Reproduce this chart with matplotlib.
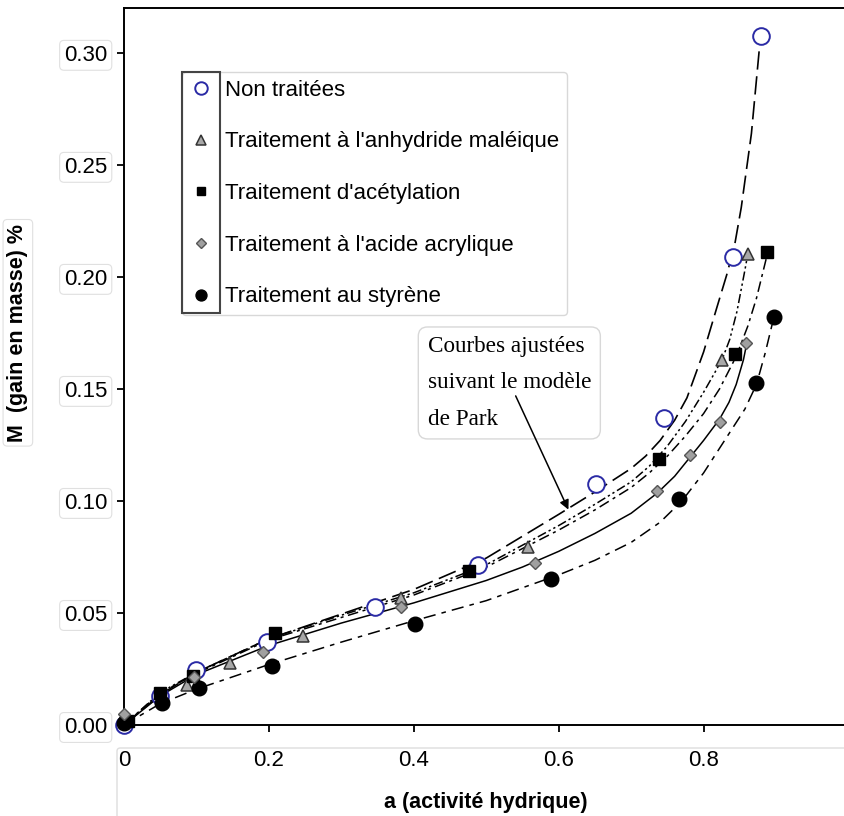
import numpy as np
import matplotlib
matplotlib.use("Agg")
import matplotlib.pyplot as plt
from matplotlib.patches import Rectangle, FancyBboxPatch

plt.rcParams['font.family'] = ['Liberation Sans', 'DejaVu Sans']

# measured points (a = activite hydrique, M = gain en masse)
a_nt = [0.0, 0.05, 0.10, 0.198, 0.346, 0.488, 0.651, 0.745, 0.840, 0.879]
m_nt = [0.0, 0.013, 0.0245, 0.037, 0.0526, 0.0713, 0.1075, 0.137, 0.209, 0.3075]

a_am = [0.0, 0.087, 0.146, 0.247, 0.383, 0.557, 0.826, 0.861]
m_am = [0.004, 0.018, 0.0277, 0.0397, 0.0566, 0.0794, 0.1627, 0.2104]

a_ac = [0.005, 0.05, 0.095, 0.208, 0.476, 0.739, 0.843, 0.887]
m_ac = [0.002, 0.0145, 0.022, 0.041, 0.0687, 0.1186, 0.1654, 0.2111]

a_aa = [0.0, 0.097, 0.192, 0.383, 0.567, 0.736, 0.781, 0.822, 0.859]
m_aa = [0.005, 0.0215, 0.0326, 0.0526, 0.0722, 0.1045, 0.1204, 0.1351, 0.1703]

a_st = [0.0, 0.052, 0.104, 0.204, 0.401, 0.590, 0.766, 0.873, 0.897]
m_st = [0.001, 0.010, 0.0165, 0.0263, 0.045, 0.0651, 0.1008, 0.1525, 0.1822]

# fitted curves (Park model)
fa_nt = [0, 0.05, 0.1, 0.2, 0.3, 0.4, 0.5, 0.6, 0.65, 0.7, 0.72, 0.74, 0.76, 0.777, 0.8, 0.818, 0.832, 0.843, 0.852, 0.866, 0.877]
fm_nt = [0, 0.0135, 0.0235, 0.0385, 0.0495, 0.0605, 0.0745, 0.094, 0.104, 0.1145, 0.120, 0.127, 0.136, 0.146, 0.1665, 0.186, 0.201, 0.2145, 0.231, 0.264, 0.302]

fa_am = [0, 0.05, 0.1, 0.2, 0.3, 0.4, 0.5, 0.6, 0.65, 0.7, 0.725, 0.75, 0.775, 0.8, 0.815, 0.826, 0.836, 0.846, 0.857, 0.862]
fm_am = [0, 0.0145, 0.0235, 0.0385, 0.049, 0.059, 0.0715, 0.089, 0.0985, 0.1085, 0.1155, 0.1245, 0.1355, 0.1485, 0.157, 0.1635, 0.172, 0.1845, 0.203, 0.212]

fa_ac = [0, 0.05, 0.1, 0.2, 0.3, 0.4, 0.5, 0.6, 0.65, 0.7, 0.725, 0.75, 0.775, 0.8, 0.822, 0.845, 0.861, 0.873, 0.881, 0.889]
fm_ac = [0, 0.0143, 0.023, 0.038, 0.048, 0.058, 0.0705, 0.087, 0.096, 0.106, 0.1125, 0.120, 0.129, 0.139, 0.150, 0.1645, 0.178, 0.1905, 0.201, 0.2115]

fa_aa = [0, 0.05, 0.1, 0.2, 0.3, 0.4, 0.5, 0.55, 0.6, 0.65, 0.7, 0.736, 0.76, 0.78, 0.8, 0.822, 0.835, 0.845, 0.855, 0.86]
fm_aa = [0, 0.013, 0.0225, 0.0355, 0.0455, 0.0545, 0.0645, 0.0705, 0.0775, 0.0855, 0.0945, 0.1035, 0.111, 0.119, 0.127, 0.1365, 0.144, 0.152, 0.163, 0.171]

fa_st = [0, 0.05, 0.1, 0.2, 0.3, 0.4, 0.5, 0.6, 0.65, 0.7, 0.74, 0.77, 0.8, 0.82, 0.84, 0.857, 0.873, 0.885, 0.897]
fm_st = [0, 0.0095, 0.016, 0.027, 0.037, 0.0465, 0.0555, 0.067, 0.0735, 0.0815, 0.0905, 0.100, 0.1125, 0.1225, 0.1325, 0.141, 0.152, 0.166, 0.182]

labels = ["Non traitées", "Traitement à l'anhydride maléique", "Traitement d'acétylation",
          "Traitement à l'acide acrylique", "Traitement au styrène"]

fig = plt.figure(figsize=(8.45, 8.16), dpi=100)
ax = fig.add_axes([124/845, 1-725/816, 724.5/845, 717/816])

# curves
ax.plot(fa_nt, fm_nt, color='black', lw=1.2, ls=(0, (11, 4)))
ax.plot(fa_am, fm_am, color='black', lw=1.1, ls=(0, (6, 2, 1.5, 2, 1.5, 2)))
ax.plot(fa_ac, fm_ac, color='black', lw=1.1, ls=(0, (7, 3, 2, 3)))
ax.plot(fa_aa, fm_aa, color='black', lw=1.1, ls='-')
ax.plot(fa_st, fm_st, color='black', lw=1.1, ls=(0, (8, 4, 3, 4)))

# points
h1, = ax.plot(a_nt, m_nt, 'o', ms=12, mfc='white', mec='#2a2aa5', mew=1.4, clip_on=False, label=labels[0], zorder=4)
h2, = ax.plot(a_am, m_am, '^', ms=9, mfc='#a8a8a8', mec='#333333', mew=1.1, clip_on=False, label=labels[1], zorder=4)
h3, = ax.plot(a_ac, m_ac, 's', ms=8.5, mfc='black', mec='black', clip_on=False, label=labels[2], zorder=4)
h4, = ax.plot(a_aa, m_aa, 'D', ms=6.5, mfc='#a0a0a0', mec='#555555', mew=1.0, clip_on=False, label=labels[3], zorder=5)
h5, = ax.plot(a_st, m_st, 'o', ms=10.5, mfc='black', mec='black', clip_on=False, label=labels[4], zorder=4)

ax.set_xlim(0, 1.0)
ax.set_ylim(0, 0.32)
ax.set_xticks([0, 0.2, 0.4, 0.6, 0.8, 1.0])
ax.set_xticklabels(['0', '0.2', '0.4', '0.6', '0.8', '1'])
ax.set_yticks([0, 0.05, 0.10, 0.15, 0.20, 0.25, 0.30])
ax.set_yticklabels(['%.2f' % v for v in [0, 0.05, 0.10, 0.15, 0.20, 0.25, 0.30]])
ax.spines['right'].set_visible(False)
for s in ['left', 'bottom', 'top']:
    ax.spines[s].set_linewidth(1.4)
ax.tick_params(axis='both', direction='out', length=5, width=1.3, labelsize=16, colors='black')
ax.tick_params(axis='y', pad=7)
ax.tick_params(axis='x', pad=13)
for lab in ax.get_yticklabels():
    lab.set_bbox(dict(boxstyle='round,pad=0.2', fc='white', ec='#e0e0e0', lw=0.8))

ax.set_xlabel('a (activité hydrique)', fontsize=15.5, fontweight='bold', labelpad=15)
ax.set_ylabel('M  (gain en masse) %', fontsize=15.5, fontweight='bold',
              bbox=dict(boxstyle='round,pad=0.2', fc='white', ec='#e0e0e0', lw=0.8))
ax.yaxis.set_label_coords(-0.132, 0.547)

# light frame around x tick label area
fig.patches.append(FancyBboxPatch((117/845, -0.02), 0.9, 1-748/816+0.02, boxstyle='round,pad=0,rounding_size=0.004',
                                  transform=fig.transFigure, fill=False, ec='#dddddd', lw=1.0))

leg = ax.legend(handles=[h1, h2, h3, h4, h5], loc='upper left',
                bbox_to_anchor=(182/845, 1-72/816), bbox_transform=fig.transFigure,
                borderaxespad=0, fontsize=16, labelspacing=1.38, handlelength=1.0,
                handletextpad=0.6, borderpad=0.35, markerscale=0.75, fancybox=True,
                edgecolor='#d8d8d8', framealpha=1)
leg.get_frame().set_linewidth(1.0)
fig.patches.append(Rectangle((182/845, 1-313/816), 38/845, 241/816, transform=fig.transFigure,
                             fill=False, ec='#444444', lw=1.5, zorder=10))

# annotation
ax.text(0.419, 0.1735, 'Courbes ajustées\nsuivant le modèle\nde Park', fontsize=16.7,
        family=['Liberation Serif', 'DejaVu Serif'], va='top', ha='left', linespacing=1.95,
        bbox=dict(boxstyle='round,pad=0.4', fc='white', ec='#d8d8d8', lw=1.0), zorder=6)
ax.annotate('', xy=(0.615, 0.095), xytext=(0.539, 0.148),
            arrowprops=dict(arrowstyle='-|>', color='black', lw=1.1, mutation_scale=14), zorder=7)

fig.savefig('out.png', dpi=100)
